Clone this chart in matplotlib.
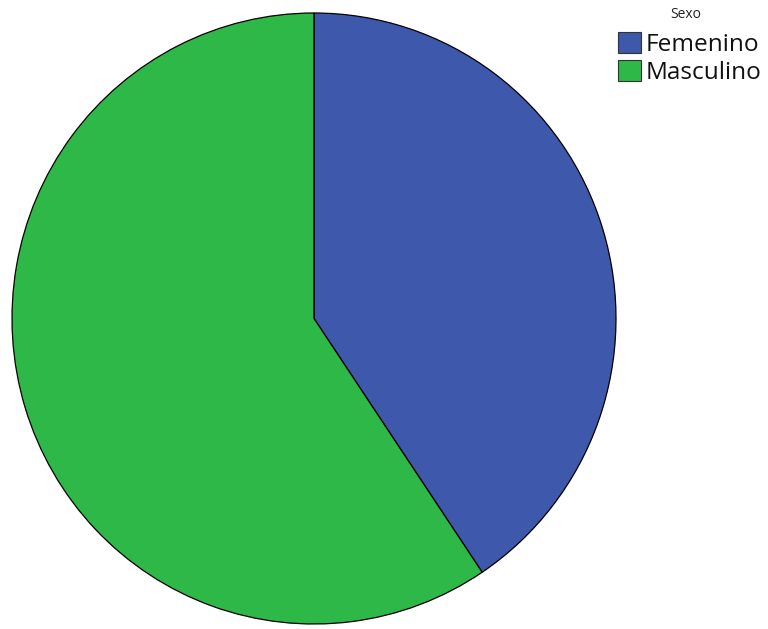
import matplotlib
matplotlib.use("Agg")
import matplotlib.pyplot as plt

categories = ["Femenino", "Masculino"]
values = [40.6, 59.4]
colors = ["#3E58AC", "#2EB848"]
legend_title = "Sexo"

fig = plt.figure(figsize=(7.68, 6.29), dpi=100)
ax = fig.add_axes([12/768, 5/629, 604/768, 611/629])
wedges, _ = ax.pie(values, colors=colors, startangle=90, counterclock=False,
                   wedgeprops=dict(edgecolor="black", linewidth=0.9))
ax.set_aspect("auto")
ax.set_xlim(-1, 1)
ax.set_ylim(-1, 1)
ax.axis("off")

fig.text(686/768, 1 - 14/629, legend_title, ha="center", va="center",
         fontsize=10, family="Open Sans", color="#222222")

leg = fig.legend(wedges, categories, loc="upper left",
                 bbox_to_anchor=(618/768, 1 - 32/629), frameon=False,
                 prop={"family": "Open Sans", "size": 17.6},
                 handlelength=0.95, handleheight=0.95, handletextpad=0.2,
                 labelspacing=0.13, borderaxespad=0, borderpad=0)
for h in leg.legend_handles:
    h.set_edgecolor("#333333")
    h.set_linewidth(0.8)
for t in leg.get_texts():
    t.set_color("#111111")

fig.savefig("out.png", dpi=100)
